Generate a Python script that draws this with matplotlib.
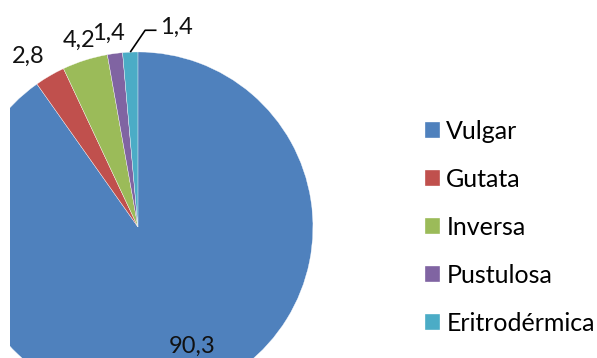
import numpy as np
import matplotlib.pyplot as plt

plt.rcParams['font.family'] = ['Lato', 'DejaVu Sans']

# dados
categorias = ['Vulgar', 'Gutata', 'Inversa', 'Pustulosa', 'Eritrodérmica']
valores = [90.3, 2.8, 4.2, 1.4, 1.4]
rotulos = ['90,3', '2,8', '4,2', '1,4', '1,4']
cores = ['#4F81BD', '#C0504D', '#9BBB59', '#8064A2', '#4BACC6']

fig = plt.figure(figsize=(5.97, 3.58), dpi=100)
ax = fig.add_axes([10 / 597, 0, 587 / 597, 1])

wedges, _ = ax.pie(valores, colors=cores, startangle=90, counterclock=False,
                   radius=1, center=(0, 0),
                   wedgeprops=dict(edgecolor='white', linewidth=0.25))
for w in wedges:
    w.set_clip_on(True)
    w.set_clip_box(ax.bbox)
ax.set_aspect('auto')
ax.set_xlim(-0.731, 2.623)
ax.set_ylim(-0.749, 1.297)
ax.axis('off')

# posicao dos rotulos: (deslocamento do angulo, raio)
ajustes = [(7, 0.75), (2.5, 1.16), (0, 1.12), (1, 1.12)]
for w, txt, (da, r) in zip(wedges[:4], rotulos[:4], ajustes):
    ang = np.deg2rad((w.theta1 + w.theta2) / 2 + da)
    ax.text(r * np.cos(ang), r * np.sin(ang), txt, ha='center', va='center',
            fontsize=17, color='#111111')

# ultimo rotulo com linha de chamada
w = wedges[4]
ang = np.deg2rad((w.theta1 + w.theta2) / 2)
x0, y0 = np.cos(ang), np.sin(ang)
ax.plot([x0, x0 + 0.085, x0 + 0.15], [y0, y0 + 0.125, y0 + 0.125],
        color='black', lw=1.2, solid_capstyle='butt')
ax.text(x0 + 0.17, y0 + 0.14, rotulos[4], ha='left', va='center',
        fontsize=17, color='#111111')

fig.legend(wedges, categorias, loc='upper left',
           bbox_to_anchor=(425 / 597, 1 - 120 / 358), frameon=False,
           fontsize=18, handlelength=0.6, handleheight=0.6,
           handletextpad=0.25, labelspacing=1.0, borderpad=0,
           borderaxespad=0)

fig.savefig('out.png', dpi=100)
